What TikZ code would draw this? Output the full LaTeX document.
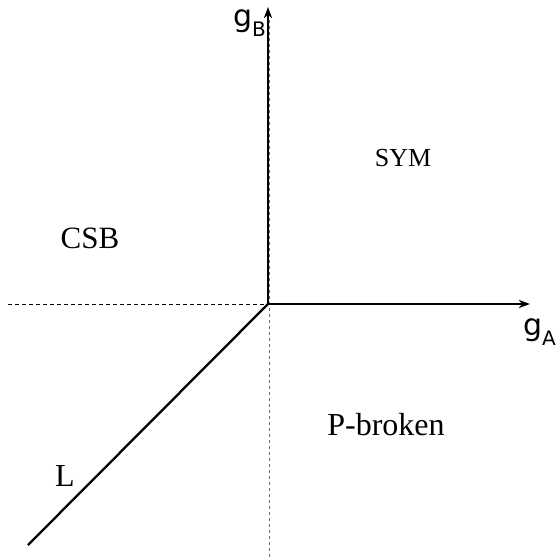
\documentclass[tikz,border=0pt]{standalone}
\usepackage{fontspec}
\setmainfont{Liberation Serif}
\newfontfamily\labfont{DejaVu Sans}
\usetikzlibrary{arrows.meta}
\tikzset{
  axisline/.style={line width=2.6pt,-{Stealth[length=11pt,width=8pt,inset=3pt]}},
  guide/.style={line width=1pt,dash pattern=on 4pt off 3pt},
  vguide/.style={line width=1.1pt,gray!80!black,dash pattern=on 3pt off 3pt},
  lline/.style={line width=2.3pt},
  region/.style={inner sep=0pt,font=\fontsize{31}{31}\selectfont},
  axlabel/.style={inner sep=0pt,anchor=base west,font=\labfont\fontsize{30}{30}\selectfont}
}
\begin{document}
\begin{tikzpicture}[x=1pt,y=-1pt]
\useasboundingbox (0,0) rectangle (556,560);
\coordinate (O) at (268,304);
\coordinate (Otop) at (268,7);
\coordinate (Oright) at (530,304);
\coordinate (Hleft) at (8,304);
\coordinate (Vtop) at (269.8,20);
\coordinate (Vbot) at (269.8,558);
\coordinate (Lend) at (28,545);
% guides
\draw[guide] (Hleft) -- (O);
\draw[vguide] (Vtop) -- (Vbot);
% axes
\draw[axisline] (O) -- (Otop);
\draw[axisline] (O) -- (Oright);
\draw[lline] (O) -- (Lend);
% labels
\node[axlabel] (gB) at (233,26) {g\raisebox{-10pt}{\fontsize{20}{20}\selectfont B}};
\node[axlabel] (gA) at (523,335) {g\raisebox{-10pt}{\fontsize{20}{20}\selectfont A}};
\node[region,font=\fontsize{26}{26}\selectfont] (sym) at (403,158) {SYM};
\node[region] (csb) at (90,238) {CSB};
\node[region,font=\fontsize{32}{32}\selectfont] (pb) at (386,425) {P-broken};
\node[region,font=\fontsize{32}{32}\selectfont] (L) at (65,476) {L};
\end{tikzpicture}
\end{document}
